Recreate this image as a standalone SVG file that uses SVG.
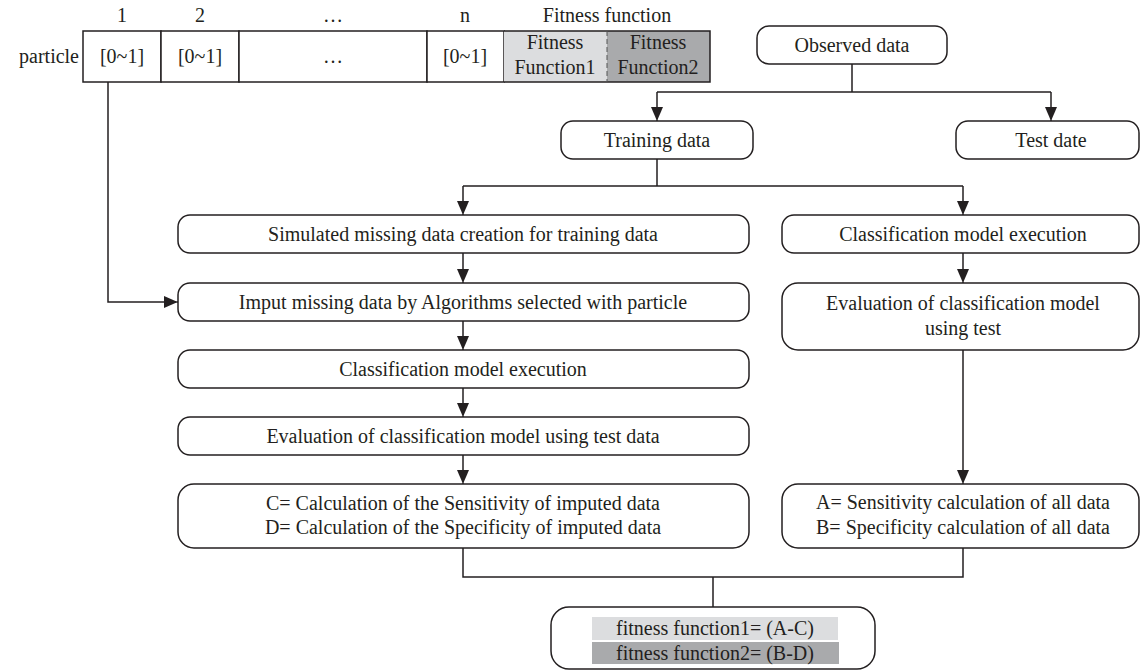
<svg xmlns="http://www.w3.org/2000/svg" width="1140" height="671" viewBox="0 0 1140 671">
<defs>
<marker id="ah" markerWidth="12" markerHeight="14" refX="14" refY="6" orient="auto" markerUnits="userSpaceOnUse">
<path d="M0,0 L14,6 L0,12 Z" fill="#231f20"/>
</marker>
<style>
text{font-family:"Liberation Serif","Times New Roman",serif;font-size:20px;fill:#231f20;text-anchor:middle}
.box{fill:#fff;stroke:#231f20;stroke-width:1.5}
.cell{fill:#fff;stroke:#231f20;stroke-width:1.5}
.ln{fill:none;stroke:#231f20;stroke-width:1.5}
.ar{fill:none;stroke:#231f20;stroke-width:1.5;marker-end:url(#ah)}
</style>
</defs>
<rect width="1140" height="671" fill="#fff"/>

<g id="particle-table">
<text x="79" y="63" style="text-anchor:end">particle</text>
<text x="122" y="22">1</text>
<text x="200" y="22">2</text>
<text x="333" y="22">…</text>
<text x="465" y="22">n</text>
<text x="607" y="22">Fitness function</text>
<rect class="cell" x="83" y="31" width="78" height="51"/>
<rect class="cell" x="161" y="31" width="78" height="51"/>
<rect class="cell" x="239" y="31" width="188" height="51"/>
<rect class="cell" x="427" y="31" width="77" height="51"/>
<rect x="504" y="31" width="103" height="51" fill="#dcdddf"/>
<rect x="607" y="31" width="103" height="51" fill="#a9aaac"/>
<path class="ln" d="M504,31 H710 V82 H504"/>
<line x1="607" y1="31" x2="607" y2="82" stroke="#555" stroke-width="1" stroke-dasharray="5,3"/>
<text x="122" y="63">[0~1]</text>
<text x="200" y="63">[0~1]</text>
<text x="333" y="63">…</text>
<text x="465" y="63">[0~1]</text>
<text x="555" y="49">Fitness</text>
<text x="555" y="74">Function1</text>
<text x="658" y="49">Fitness</text>
<text x="658" y="74">Function2</text>
</g>

<g id="observed">
<rect class="box" x="757" y="26" width="190" height="38" rx="12"/>
<text x="852" y="52">Observed data</text>
</g>
<g id="training">
<rect class="box" x="561" y="121" width="192" height="38" rx="12"/>
<text x="657" y="147">Training data</text>
</g>
<g id="testdate">
<rect class="box" x="956" y="121" width="183" height="38" rx="12"/>
<text x="1051" y="147">Test date</text>
</g>
<g id="simulated">
<rect class="box" x="178" y="215" width="571" height="38" rx="12"/>
<text x="463" y="241">Simulated missing data creation for training data</text>
</g>
<g id="imput">
<rect class="box" x="178" y="283" width="571" height="38" rx="12"/>
<text x="463" y="309">Imput missing data by Algorithms selected with particle</text>
</g>
<g id="classify-left">
<rect class="box" x="178" y="350" width="571" height="38" rx="12"/>
<text x="463" y="376">Classification model execution</text>
</g>
<g id="evaluate-left">
<rect class="box" x="178" y="417" width="571" height="38" rx="12"/>
<text x="463" y="443">Evaluation of classification model using test data</text>
</g>
<g id="cd">
<rect class="box" x="178" y="484" width="571" height="64" rx="16"/>
<text x="463" y="510">C= Calculation of the Sensitivity of imputed data</text>
<text x="463" y="534">D= Calculation of the Specificity of imputed data</text>
</g>
<g id="classify-right">
<rect class="box" x="782" y="215" width="357" height="38" rx="12"/>
<text x="963" y="241">Classification model execution</text>
</g>
<g id="evaluate-right">
<rect class="box" x="782" y="283" width="357" height="67" rx="16"/>
<text x="963" y="310">Evaluation of classification model</text>
<text x="963" y="335">using test</text>
</g>
<g id="ab">
<rect class="box" x="782" y="484" width="357" height="64" rx="16"/>
<text x="963" y="509">A= Sensitivity calculation of all data</text>
<text x="963" y="534">B= Specificity calculation of all data</text>
</g>
<g id="fitness">
<rect class="box" x="551" y="607" width="324" height="62" rx="18"/>
<rect x="592" y="617" width="246" height="23" fill="#dcdddf"/>
<rect x="592" y="642" width="247" height="22" fill="#a9aaac"/>
<text x="715" y="635">fitness function1= (A-C)</text>
<text x="715" y="660">fitness function2= (B-D)</text>
</g>

<g id="connectors">
<path class="ln" d="M852,64 V92 M657,92 H1051"/>
<path class="ar" d="M657,92 V121"/>
<path class="ar" d="M1051,92 V121"/>
<path class="ln" d="M657,159 V186 M463,186 H963"/>
<path class="ar" d="M463,186 V215"/>
<path class="ar" d="M963,186 V215"/>
<path class="ar" d="M463,253 V283"/>
<path class="ar" d="M463,321 V350"/>
<path class="ar" d="M463,388 V417"/>
<path class="ar" d="M463,455 V484"/>
<path class="ar" d="M963,253 V283"/>
<path class="ar" d="M963,350 V484"/>
<path class="ar" d="M108,82 V302 H178"/>
<path class="ln" d="M463,548 V577 H963 V548 M713,577 V607"/>
</g>
</svg>
